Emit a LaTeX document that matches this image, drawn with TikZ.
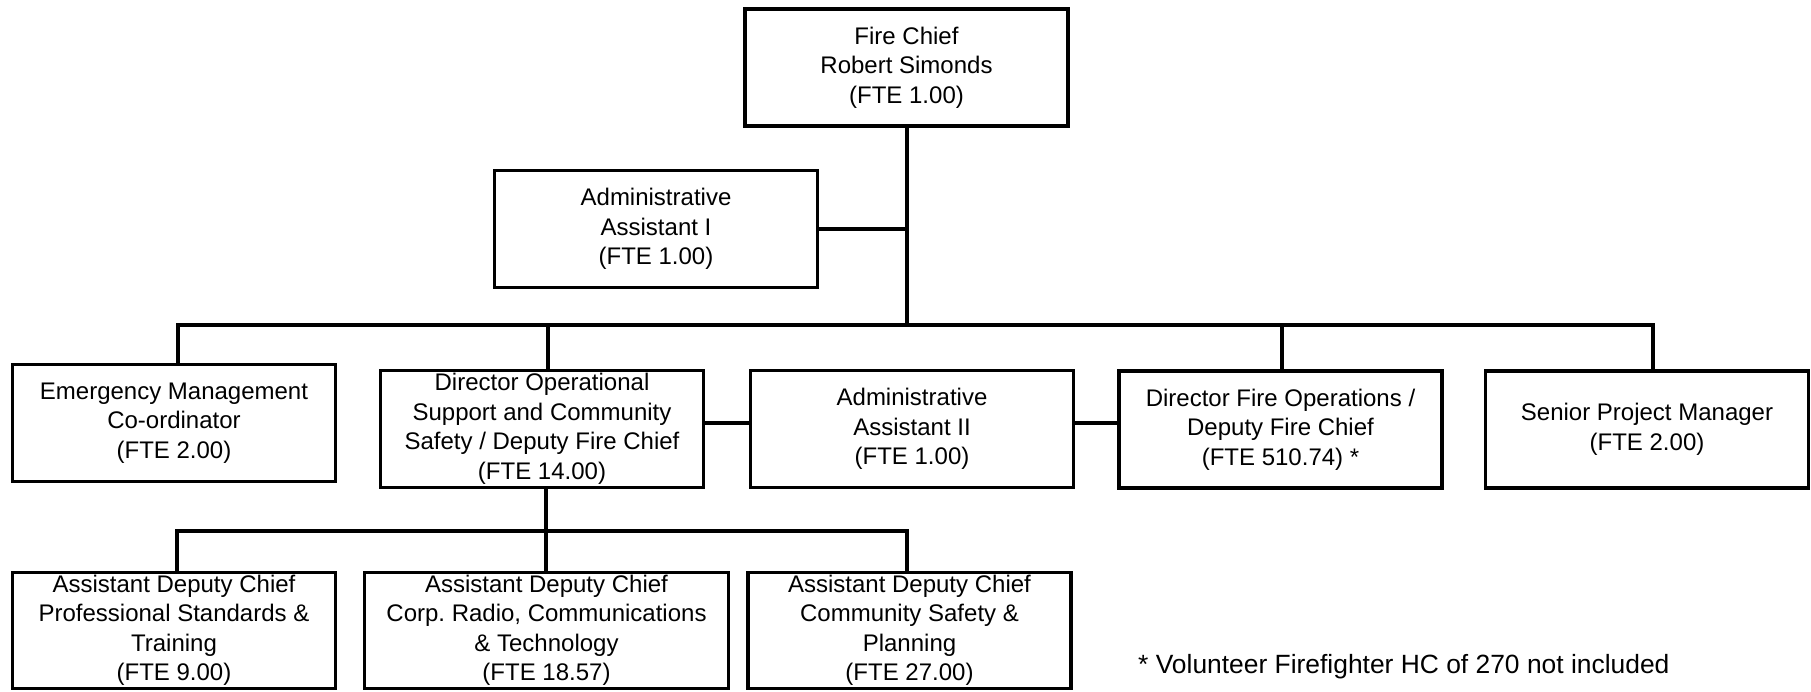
\documentclass[tikz,border=0pt]{standalone}
\usepackage{fontspec}
\setmainfont{Liberation Sans}
\frenchspacing
\begin{document}
\begin{tikzpicture}[x=1pt,y=-1pt,
  orgbox/.style={draw=black, line width=3.4pt, fill=white, align=center,
    inner sep=0pt, font=\fontsize{24}{29.5}\selectfont,
    minimum width=323pt, minimum height=117pt},
  link/.style={draw=black, line width=3.2pt, line cap=rect}
]
\useasboundingbox (0,0) rectangle (1811,692);

% positions
\node[orgbox] (chief) at (906.5,67.5) {Fire Chief\\Robert Simonds\\(FTE 1.00)};
\node[orgbox] (adm1) at (656,229) {Administrative\\Assistant I\\(FTE 1.00)};

\node[orgbox] (emc) at (174,423) {Emergency Management\\Co-ordinator\\(FTE 2.00)};
\node[orgbox] (dops) at (542,429) {Director Operational\\Support and Community\\Safety / Deputy Fire Chief\\(FTE 14.00)};
\node[orgbox] (adm2) at (912,429) {Administrative\\Assistant II\\(FTE 1.00)};
\node[orgbox] (dfo) at (1280.5,429.5) {Director Fire Operations /\\Deputy Fire Chief\\(FTE 510.74) *};
\node[orgbox] (spm) at (1647,429.5) {Senior Project Manager\\(FTE 2.00)};

\node[orgbox, minimum height=116pt] (adc1) at (174,630.5) {Assistant Deputy Chief\\Professional Standards \&\\Training\\(FTE 9.00)};
\node[orgbox, minimum height=116pt, minimum width=364pt] (adc2) at (546.5,630.5) {Assistant Deputy Chief\\Corp. Radio, Communications\\\& Technology\\(FTE 18.57)};
\node[orgbox, minimum height=116pt] (adc3) at (909.5,630.5) {Assistant Deputy Chief\\Community Safety \&\\Planning\\(FTE 27.00)};

\node[anchor=base west, inner sep=0pt, font=\fontsize{26.4}{30}\selectfont] (note) at (1138,673)
  {* Volunteer Firefighter HC of 270 not included};

% bus lines
\coordinate (busA) at (178,325);
\coordinate (busB) at (1653,325);
\coordinate (busC) at (177,531);
\coordinate (busD) at (907,531);

% fire chief down to the upper bus
\draw[link] (chief.south -| 907,0) -- (907,325);
\draw[link, line cap=butt] (adm1.east) -- (adm1.east -| 907,0);
\draw[link] (busA) -- (busB);

% drops to second row
\draw[link] (busA) -- (emc.north -| busA);
\draw[link] (548,325) -- (dops.north -| 548,0);
\draw[link] (1282,325) -- (dfo.north -| 1282,0);
\draw[link] (busB) -- (spm.north -| busB);

% side connections on second row
\draw[link] (dops.east |- 0,423) -- (adm2.west |- 0,423);
\draw[link] (adm2.east |- 0,423) -- (dfo.west |- 0,423);

% director to assistant deputy chiefs
\draw[link] (dops.south -| 546,0) -- (546,531);
\draw[link] (busC) -- (busD);
\draw[link] (busC) -- (adc1.north -| busC);
\draw[link] (546,531) -- (adc2.north -| 546,0);
\draw[link] (busD) -- (adc3.north -| busD);
\end{tikzpicture}
\end{document}
